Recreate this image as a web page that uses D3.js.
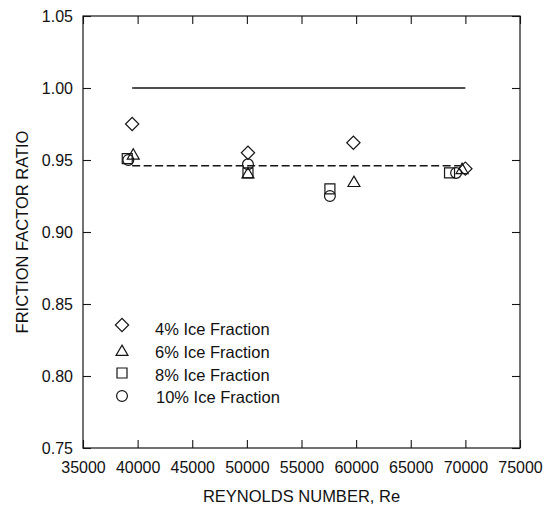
<!DOCTYPE html>
<html>
<head>
<meta charset="utf-8">
<script src="https://cdn.jsdelivr.net/npm/d3@7/dist/d3.min.js"></script>
<style>
  html, body { margin: 0; padding: 0; background: #fff; }
  svg { display: block; }
  text { font-family: "Liberation Sans", Arial, Helvetica, sans-serif; fill: #111; }
</style>
</head>
<body>
<svg id="chart" width="544" height="508"></svg>
<script>
// Friction factor ratio vs. Reynolds number for several ice fractions
const seriesNames = ["4% Ice Fraction", "6% Ice Fraction", "8% Ice Fraction", "10% Ice Fraction"];
const seriesShapes = ["diamond", "triangle", "square", "circle"];

const re4  = [39500, 50100, 59750, 70000];
const ff4  = [0.975, 0.955, 0.962, 0.944];
const re6  = [39600, 50100, 59800, 69700];
const ff6  = [0.953, 0.940, 0.934, 0.943];
const re8  = [39050, 50100, 57600, 68550];
const ff8  = [0.951, 0.941, 0.930, 0.941];
const re10 = [39150, 50100, 57600, 69150];
const ff10 = [0.950, 0.947, 0.925, 0.941];

// reference lines: clean-water ratio and mean ice-slurry ratio
const solidRe = [39500, 70000];
const solidFf = [1.00, 1.00];
const meanRe  = [39500, 69500];
const meanFf  = [0.946, 0.946];

const xTicks = [35000, 40000, 45000, 50000, 55000, 60000, 65000, 70000, 75000];
const yTicks = [0.75, 0.80, 0.85, 0.90, 0.95, 1.00, 1.05];

const margin = { left: 83, top: 16, right: 24, bottom: 60 };
const W = 544, H = 508;
const svg = d3.select("#chart");
const x = d3.scaleLinear().domain([35000, 75000]).range([margin.left, W - margin.right]);
const y = d3.scaleLinear().domain([0.75, 1.05]).range([H - margin.bottom, margin.top]);

const ink = "#151515";
const tickLen = 8;

// frame with inward ticks on all four sides
const g = svg.append("g");
g.append("rect")
  .attr("x", x(35000)).attr("y", y(1.05))
  .attr("width", x(75000) - x(35000)).attr("height", y(0.75) - y(1.05))
  .attr("fill", "none").attr("stroke", ink).attr("stroke-width", 1.2);

const axisStyle = sel => {
  sel.select(".domain").remove();
  sel.selectAll(".tick line").attr("stroke", ink).attr("stroke-width", 1.1);
  sel.selectAll(".tick text").style("font-size", "16px").attr("fill", "#111");
};

g.append("g").attr("transform", `translate(0,${y(0.75)})`)
  .call(d3.axisBottom(x).tickValues(xTicks).tickFormat(d3.format("d")).tickSizeInner(-tickLen).tickPadding(14))
  .call(axisStyle);
g.append("g").attr("transform", `translate(0,${y(1.05)})`)
  .call(d3.axisTop(x).tickValues(xTicks).tickFormat("").tickSizeInner(-tickLen))
  .call(axisStyle);
g.append("g").attr("transform", `translate(${x(35000)},0)`)
  .call(d3.axisLeft(y).tickValues(yTicks).tickFormat(d3.format(".2f")).tickSizeInner(-tickLen).tickPadding(10))
  .call(axisStyle);
g.append("g").attr("transform", `translate(${x(75000)},0)`)
  .call(d3.axisRight(y).tickValues(yTicks).tickFormat("").tickSizeInner(-tickLen))
  .call(axisStyle);
g.selectAll("text").attr("font-family", null);

// axis titles
svg.append("text")
  .attr("x", (x(35000) + x(75000)) / 2).attr("y", 502)
  .attr("text-anchor", "middle").style("font-size", "16.5px")
  .text("REYNOLDS NUMBER, Re");
svg.append("text")
  .attr("transform", `translate(28,${(y(0.75) + y(1.05)) / 2}) rotate(-90)`)
  .attr("text-anchor", "middle").style("font-size", "16.5px")
  .text("FRICTION FACTOR RATIO");

// reference lines
const line = d3.line().x(d => x(d[0])).y(d => y(d[1]));
svg.append("path")
  .attr("d", line(d3.zip(solidRe, solidFf)))
  .attr("fill", "none").attr("stroke", ink).attr("stroke-width", 1.3);
svg.append("path")
  .attr("d", line(d3.zip(meanRe, meanFf)))
  .attr("fill", "none").attr("stroke", ink).attr("stroke-width", 1.3)
  .attr("stroke-dasharray", "8,3.5");

// marker shapes
const symbolPath = {
  diamond:  d3.symbol(d3.symbolSquare, 88)(),
  triangle: d3.symbol(d3.symbolTriangle, 62)(),
  square:   d3.symbol(d3.symbolSquare, 100)(),
  circle:   d3.symbol(d3.symbolCircle, 92)()
};
const markerTransform = (shape, px, py) =>
  `translate(${px},${py})` + (shape === "diamond" ? " rotate(45)" : "");

const series = [
  { re: re10, ff: ff10, shape: seriesShapes[3] },
  { re: re8,  ff: ff8,  shape: seriesShapes[2] },
  { re: re6,  ff: ff6,  shape: seriesShapes[1] },
  { re: re4,  ff: ff4,  shape: seriesShapes[0] }
];

series.forEach(s => {
  svg.append("g").selectAll("path")
    .data(d3.zip(s.re, s.ff))
    .join("path")
    .attr("d", symbolPath[s.shape])
    .attr("transform", d => markerTransform(s.shape, x(d[0]), y(d[1])))
    .attr("fill", "none").attr("stroke", ink).attr("stroke-width", 1.2);
});

// legend
const legend = svg.append("g");
const legendMarkerY = [325, 352, 373, 396];
const legendTextY = [335, 358, 381, 403];
seriesNames.forEach((name, i) => {
  legend.append("path")
    .attr("d", symbolPath[seriesShapes[i]])
    .attr("transform", markerTransform(seriesShapes[i], 122, legendMarkerY[i]))
    .attr("fill", "none").attr("stroke", ink).attr("stroke-width", 1.2);
  legend.append("text")
    .attr("x", i === 3 ? 156 : 155).attr("y", legendTextY[i])
    .style("font-size", "16.5px")
    .text(name);
});
</script>
</body>
</html>
